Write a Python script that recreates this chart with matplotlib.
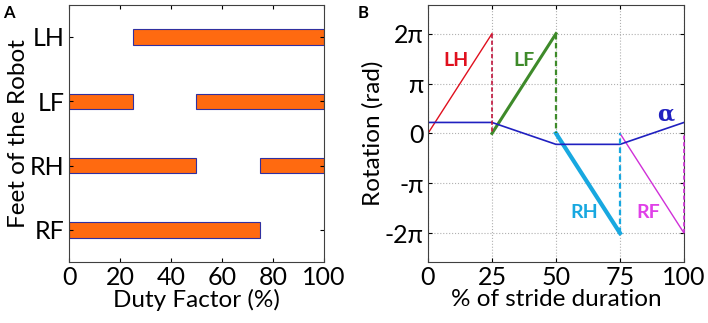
import numpy as np
import matplotlib.pyplot as plt

plt.rcParams['font.family'] = ['Lato', 'DejaVu Sans']

# panel A: stance phases per foot (start, end in % duty factor)
feet = ["RF", "RH", "LF", "LH"]
phases = {
    "LH": [(25, 100)],
    "LF": [(0, 25), (50, 100)],
    "RH": [(0, 50), (75, 100)],
    "RF": [(0, 75)],
}
duty_ticks = [0, 20, 40, 60, 80, 100]

# panel B: foot rotation over the stride
lh_x, lh_y = [0, 25, 25], [0, 2 * np.pi, 0]
lf_x, lf_y = [25, 50, 50], [0, 2 * np.pi, 0]
rh_x, rh_y = [50, 75, 75], [0, -2 * np.pi, 0]
rf_x, rf_y = [75, 100, 100], [0, -2 * np.pi, 0]
alpha_x = [0, 25, 50, 75, 100]
alpha_y = [0.69, 0.69, -0.69, -0.69, 0.69]
stride_ticks = [0, 25, 50, 75, 100]
rot_ticks = [-2 * np.pi, -np.pi, 0, np.pi, 2 * np.pi]
rot_labels = ["-2\u03c0", "-\u03c0", "0", "\u03c0", "2\u03c0"]

fig = plt.figure(figsize=(7.08, 3.23), dpi=100)
fs = 18
fl = 17.5

# ---- A
axA = fig.add_axes([0.0975, 0.189, 0.36, 0.796])
for i, f in enumerate(feet):
    for s, e in phases[f]:
        axA.barh(i + 1, e - s, left=s, height=0.24, color="#FF6A10",
                 edgecolor="#3030A0", linewidth=0.8)
axA.set_xlim(0, 100)
axA.set_ylim(0.5, 4.5)
axA.set_xticks(duty_ticks)
axA.set_yticks([1, 2, 3, 4])
axA.set_yticklabels(feet)
axA.tick_params(direction="in", top=True, right=True, labelsize=fs, length=3,
                pad=3)
axA.set_xlabel("Duty Factor (%)", fontsize=fl, labelpad=0)
axA.set_ylabel("Feet of the Robot", fontsize=fl, labelpad=1)
for sp in axA.spines.values():
    sp.set_color("#404040")
fig.text(0.005, 0.985, "A", fontsize=12, fontweight="bold", va="top")

# ---- B
axB = fig.add_axes([0.6045, 0.189, 0.3616, 0.796])
axB.grid(True, color="#b0b0b0", linestyle=":", linewidth=0.8)
dash = dict(ls=(0, (2.5, 1.5)), clip_on=False, zorder=4)
axB.plot(lh_x[:2], lh_y[:2], color="#E0101E", lw=1.0)
axB.plot(lh_x[1:], lh_y[1:], color="#C0143C", lw=1.2, **dash)
axB.plot(lf_x[:2], lf_y[:2], color="#3E8A2A", lw=2.2)
axB.plot(lf_x[1:], lf_y[1:], color="#3E8A2A", lw=1.6, **dash)
axB.plot(rh_x[:2], rh_y[:2], color="#18A8E0", lw=3.0)
axB.plot(rh_x[1:], rh_y[1:], color="#18A8E0", lw=1.6, **dash)
axB.plot(rf_x[:2], rf_y[:2], color="#D030D8", lw=1.0)
axB.plot(rf_x[1:], rf_y[1:], color="#D030D8", lw=1.2, **dash)
axB.plot(alpha_x, alpha_y, color="#2020C0", lw=1.2)

lab = dict(fontsize=14, fontweight="bold", ha="center", va="center")
axB.text(11, 1.46 * np.pi, "LH", color="#E0101E", **lab)
axB.text(37.5, 1.46 * np.pi, "LF", color="#3E8A2A", **lab)
axB.text(61, -1.58 * np.pi, "RH", color="#18A8E0", **lab)
axB.text(86, -1.58 * np.pi, "RF", color="#E040E8", **lab)
axB.text(93, 0.38 * np.pi, "\u03b1", color="#2020C0", fontsize=16,
         fontweight="bold", ha="center", va="center",
         family=["DejaVu Serif"])

axB.set_xlim(0, 100)
axB.set_ylim(-8.1, 8.1)
axB.set_xticks(stride_ticks)
axB.set_yticks(rot_ticks)
axB.set_yticklabels(rot_labels)
axB.tick_params(direction="in", top=True, right=True, labelsize=fs, length=3,
                pad=3)
axB.set_xlabel("% of stride duration", fontsize=fl, labelpad=0)
axB.set_ylabel("Rotation (rad)", fontsize=fl, labelpad=1)
for sp in axB.spines.values():
    sp.set_color("#404040")
fig.text(0.5045, 0.985, "B", fontsize=12, fontweight="bold", va="top")

fig.savefig("out.png", dpi=100)
